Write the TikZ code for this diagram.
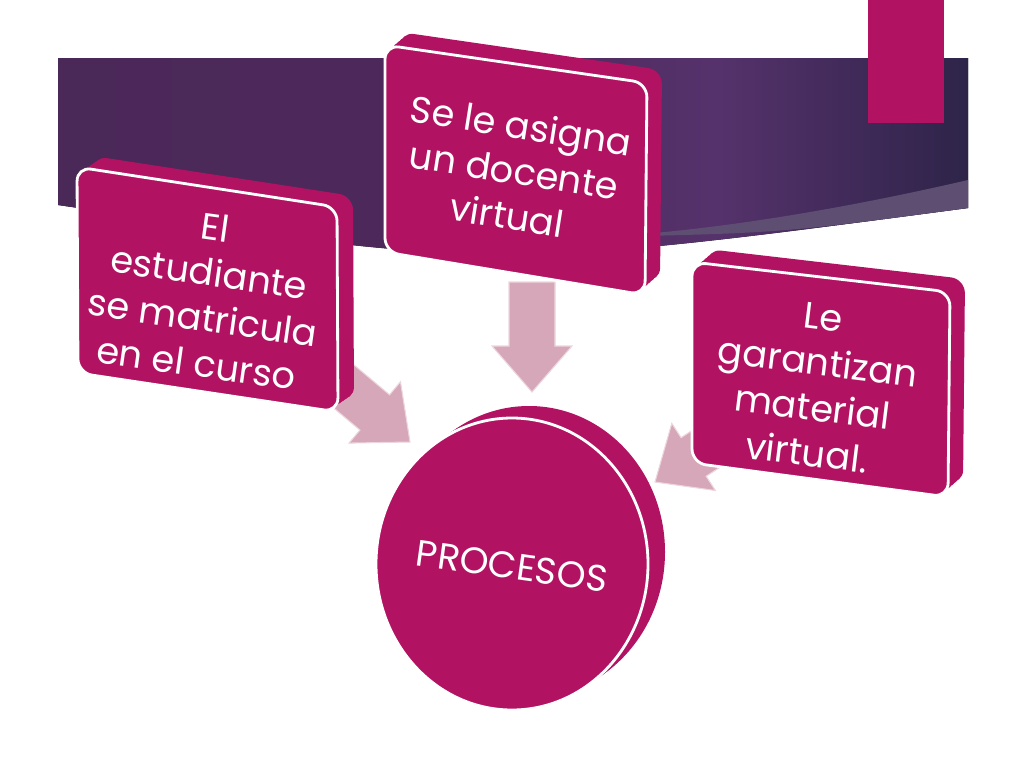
\documentclass[tikz,border=0pt]{standalone}
\usepackage{fontspec}
\setmainfont{Poppins}
\usetikzlibrary{shapes.geometric}
\definecolor{boxfill}{RGB}{178,18,98}
\definecolor{arrowfill}{RGB}{214,167,184}
\definecolor{arrowhi}{RGB}{236,214,222}
\definecolor{bannerL}{RGB}{74,40,88}
\definecolor{bannerM}{RGB}{78,42,92}
\definecolor{bannerG}{RGB}{86,50,108}
\definecolor{bannerR}{RGB}{46,36,73}
\definecolor{bandfill}{RGB}{94,79,114}
\pgfdeclarehorizontalshading{bannershade}{100bp}{color(0bp)=(bannerL); color(25bp)=(bannerL); color(50bp)=(bannerM); color(61bp)=(bannerG); color(75bp)=(bannerR); color(100bp)=(bannerR)}
\tikzset{
  boxside/.style={fill=boxfill,rounded corners=8pt},
  boxface/.style={fill=boxfill,draw=white,line width=1.6pt,rounded corners=8pt},
  boxtext/.style={text=white,align=center,font=\fontsize{21}{26}\selectfont},
  blockarrow/.pic={
    \filldraw[fill=arrowfill,draw=arrowhi,line width=0.6pt] (0,0) -- (40,-46) -- (23,-46) -- (23,-110) -- (-23,-110) -- (-23,-46) -- (-40,-46) -- cycle;
  }
}

\begin{document}
\begin{tikzpicture}[x=0.02cm,y=-0.02cm]
		\useasboundingbox (0,0) rectangle (1024,768);
		\fill[white] (0,0) rectangle (1024,768);
		% banner
		\fill[shading=bannershade] (58,58) -- (968,58) -- (968,208) .. controls (500,270) .. (58,205) -- cycle;
		\fill[bandfill] (968,180) .. controls (830,212) and (700,232) .. (598,237) .. controls (781,233) .. (968,208) -- cycle;
		\fill[boxfill] (868,0) rectangle (944,123);
		% arrows
		\pic[rotate=50] at (410,442) {blockarrow};
		\pic at (532,392) {blockarrow};
		\pic[rotate=-57] at (655,482) {blockarrow};
		% boxes
		\foreach \k in {1,0.8,0.6,0.4,0.2}
			\fill[boxside,shift={(\k*16,-\k*11)}] (77,167) -- (337,207) -- (338,412) -- (78,373) -- cycle;
		\draw[boxface] (77,167) -- (337,207) -- (338,412) -- (78,373) -- cycle;
		\foreach \k in {1,0.8,0.6,0.4,0.2}
			\fill[boxside,shift={(\k*15,-\k*13)}] (385,45) -- (647,83) -- (645,295) -- (385,252) -- cycle;
		\draw[boxface] (385,45) -- (647,83) -- (645,295) -- (385,252) -- cycle;
		\foreach \k in {1,0.8,0.6,0.4,0.2}
			\fill[boxside,shift={(\k*15,-\k*13)}] (692,262) -- (950,292) -- (948,497) -- (692,463) -- cycle;
		\draw[boxface] (692,262) -- (950,292) -- (948,497) -- (692,463) -- cycle;
		% disc
		\foreach \k in {1,0.8,0.6,0.4,0.2}
			\fill[boxfill] (512+\k*17,564-\k*12) ellipse [x radius=136,y radius=146];
		\draw[boxface] (512,564) ellipse [x radius=136,y radius=146];
		\path (206,295) node(estudiante)[boxtext,rotate=-8]{El\\estudiante\\se matricula\\en el curso}
		(514,170) node(docente)[boxtext,rotate=-9]{Se le asigna\\un docente\\virtual}
		(815,385) node(material)[boxtext,rotate=-7]{Le\\garantizan\\material\\virtual.}
		(512,566) node(procesos)[boxtext,rotate=-8]{PROCESOS};
	\end{tikzpicture}
\end{document}
